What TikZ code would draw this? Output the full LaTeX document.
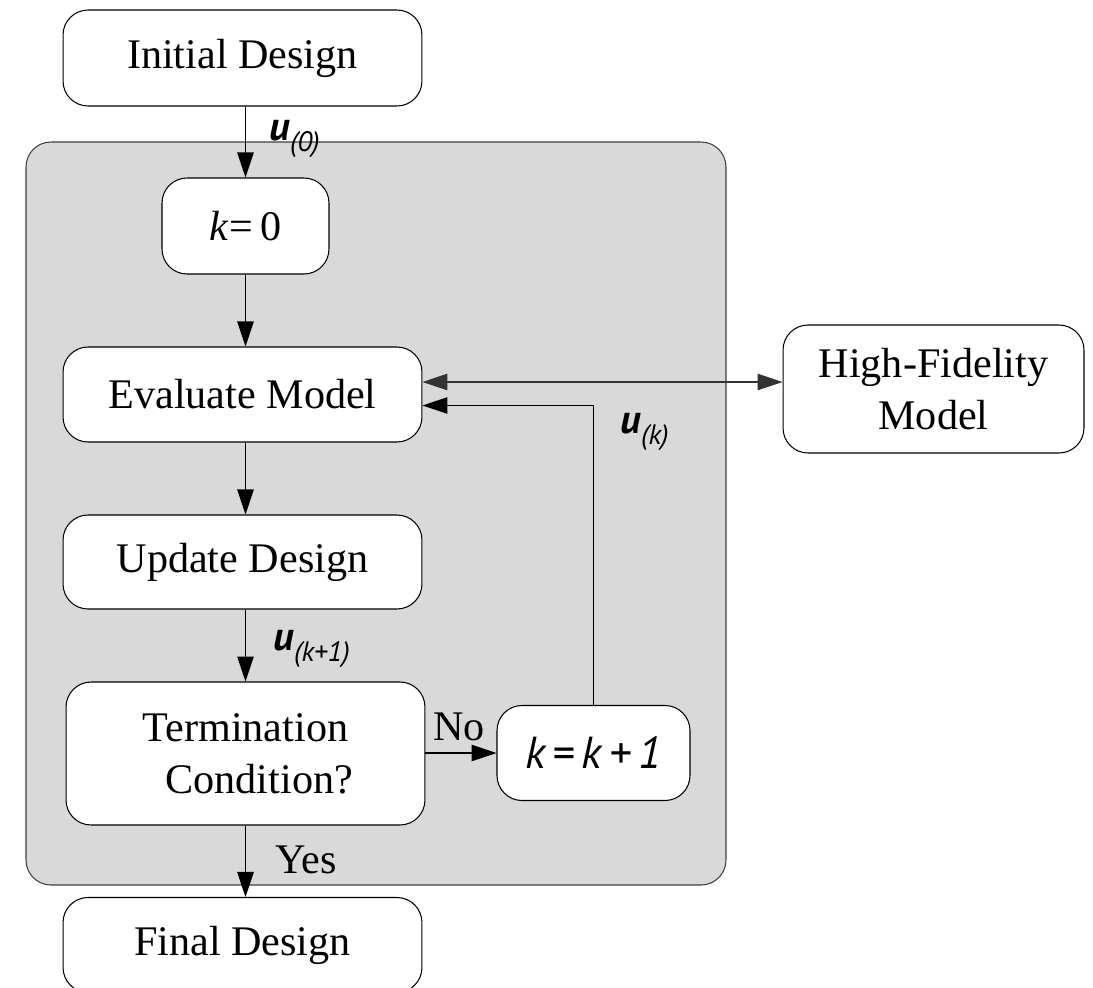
\documentclass[tikz,border=0pt]{standalone}
\usepackage{fontspec}
\setmainfont{Liberation Serif}
\newfontfamily\lblfont{PT Sans}
\usepackage{xcolor}
\usepackage{tikz}
\usetikzlibrary{arrows.meta,positioning}

\newcommand{\uvec}[1]{{\fontsize{23}{23}\lblfont\bfseries\itshape u}\raisebox{-0.6ex}{\fontsize{16}{16}\lblfont\itshape (#1)}}

\begin{document}
\begin{tikzpicture}[
      x=0.02cm, y=-0.02cm,
      box/.style={draw, line width=0.6pt, rounded corners=0.5cm, fill=white, align=center, font=\fontsize{24}{29.5}\selectfont},
      lbl/.style={font=\fontsize{24}{29}\selectfont, inner sep=0pt, anchor=base west},
      flow/.style={->, line width=0.6pt},
      >={Triangle[length=0.5cm, width=0.33cm]}
    ]
    \useasboundingbox (0,0) rectangle (1093,988);

    % grey loop area
    \draw[line width=0.6pt, draw=black!75, fill=black!15, rounded corners=0.5cm] (26,142) rectangle (726,885);

    \node[box, minimum width=7.18cm, minimum height=1.92cm] (init) at (242.5,58) {Initial Design};
    \node[box, minimum width=3.34cm, minimum height=1.92cm] (kzero) at (245.5,226) {\textit{k}=\,0};
    \node[box, minimum width=7.18cm, minimum height=1.9cm] (eval) at (242.5,394.5) {Evaluate Model};
    \node[box, minimum width=6.02cm, minimum height=2.56cm] (hifi) at (933.5,389) {High-Fidelity\\Model};
    \node[box, minimum width=7.18cm, minimum height=1.88cm] (update) at (242.5,562) {Update Design};
    \node[box, minimum width=7.18cm, minimum height=2.86cm] (term) at (245.5,753.5) {Termination\\\hspace*{0.55cm}Condition?};
    \node[box, minimum width=3.86cm, minimum height=1.9cm, font=\fontsize{25.5}{26}\lblfont\itshape] (kinc) at (593.5,753) {k\,=\,k\,+\,1};
    \node[box, minimum width=7.18cm, minimum height=1.9cm] (final) at (242.5,945) {Final Design};

    \draw[flow] (init.south -| kzero.north) -- (kzero.north);
    \draw[flow] (kzero.south) -- (kzero.south |- eval.north);
    \draw[flow] (kzero.south |- eval.south) -- (kzero.south |- update.north);
    \draw[flow] (kzero.south |- update.south) -- (kzero.south |- term.north);
    \draw[flow] (kzero.south |- term.south) -- (kzero.south |- final.north);
    \draw[flow] (term.east |- kinc.west) -- (kinc.west);
    \draw[flow] (kinc.north) |- ([yshift=-0.22cm]eval.east);
    \draw[<->, line width=0.6pt, draw=black!80] ([yshift=0.25cm]eval.east) -- ([yshift=0.25cm]eval.east -| hifi.west);

    \node[lbl] (u0) at (269,140) {\uvec{0}};
    \node[lbl] (uk) at (620,433) {\uvec{k}};
    \node[lbl] (uk1) at (273,650) {\uvec{k+1}};
    \node[lbl] (no) at (433,740) {No};
    \node[lbl] (yes) at (275,873) {Yes};
  \end{tikzpicture}
\end{document}
